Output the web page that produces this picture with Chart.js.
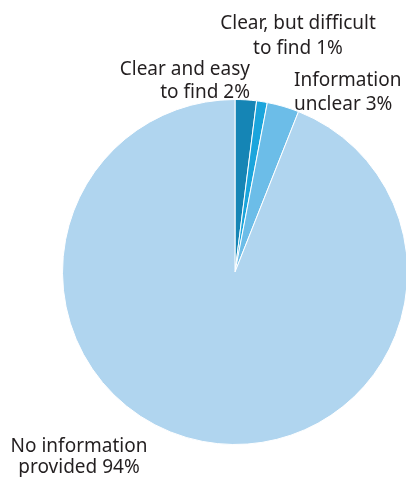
<!DOCTYPE html>
<html>
<head>
<meta charset="utf-8">
<script src="https://cdn.jsdelivr.net/npm/chart.js@4/dist/chart.umd.min.js"></script>
<style>
  html, body { margin: 0; padding: 0; background: #fff; overflow: hidden; }
  #wrap { width: 406px; height: 477px; overflow: hidden; }
</style>
</head>
<body>
<div id="wrap"><canvas id="pie" width="420" height="477"></canvas></div>
<script>
const categories = ['Clear and easy to find', 'Clear, but difficult to find', 'Information unclear', 'No information provided'];
const shares = [2, 1, 3, 94];
const sliceColors = ['#1585b5', '#1ba5dc', '#6cbde8', '#b0d5ef'];

// label text lines and where each block sits
const labelLines = [
    ['Clear and easy', 'to find 2%'],
    ['Clear, but difficult', 'to find 1%'],
    ['Information', 'unclear 3%'],
    ['No information', 'provided 94%']
];
const labelSpots = [
    { x: 250, y: 75, align: 'right', gap: 23 },
    { x: 298, y: 29, align: 'center', gap: 25 },
    { x: 294, y: 86, align: 'left', gap: 24 },
    { x: 79, y: 452, align: 'center', gap: 21 }
];

const sliceLabels = {
    id: 'sliceLabels',
    afterDraw(chart) {
        const ctx = chart.ctx;
        ctx.save();
        ctx.fillStyle = '#231f20';
        ctx.font = '19px "Noto Sans", sans-serif';
        ctx.textBaseline = 'alphabetic';
        labelLines.forEach((lines, i) => {
            const s = labelSpots[i];
            ctx.textAlign = s.align;
            lines.forEach((t, j) => ctx.fillText(t, s.x, s.y + j * s.gap));
        });
        ctx.restore();
    }
};

new Chart(document.getElementById('pie'), {
    type: 'pie',
    data: {
        labels: categories,
        datasets: [{
            data: shares,
            backgroundColor: sliceColors,
            borderColor: '#ffffff',
            borderWidth: 1
        }]
    },
    options: {
        responsive: false,
        animation: false,
        layout: { padding: { left: 62, right: 12, top: 99, bottom: 32 } },
        plugins: {
            legend: { display: false },
            tooltip: { enabled: false }
        }
    },
    plugins: [sliceLabels]
});
</script>
</body>
</html>
